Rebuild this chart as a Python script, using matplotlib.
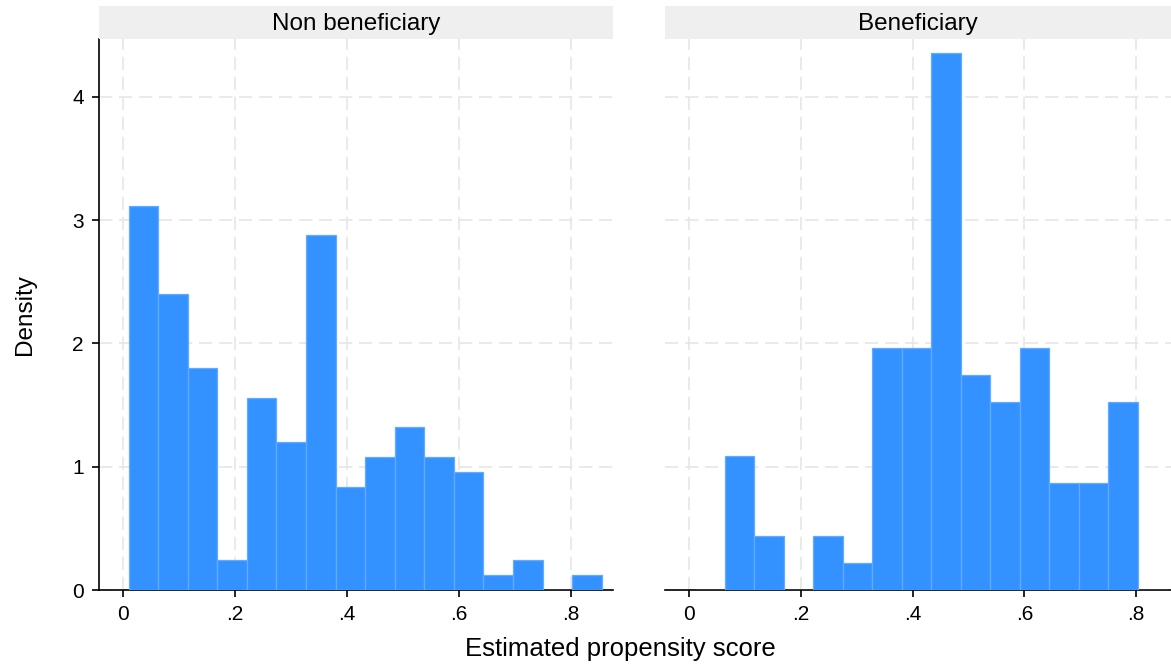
import numpy as np
import matplotlib
matplotlib.use("Agg")
import matplotlib.pyplot as plt

plt.rcParams['font.family'] = ['Liberation Sans', 'DejaVu Sans']

# histogram bins shared by both panels
bin_start = 0.0107
bin_width = 0.0528
n_bins = 16

# counts (density = count / (N * width))
non_benef_counts = [26, 20, 15, 2, 13, 10, 24, 7, 9, 11, 9, 8, 1, 2, 0, 1]
benef_counts = [0, 5, 2, 0, 2, 1, 9, 9, 20, 8, 7, 9, 4, 4, 7, 0]

panel_titles = ["Non beneficiary", "Beneficiary"]
x_ticks = [0, 0.2, 0.4, 0.6, 0.8]
x_ticklabels = ["0", ".2", ".4", ".6", ".8"]
y_ticks = [0, 1, 2, 3, 4]

W, H = 1171, 668
fig = plt.figure(figsize=(W / 100, H / 100), dpi=100)

bar_color = "#3392ff"
edge_color = "#63abff"
grid_color = "#e6e6e6"

# panel boxes in pixels: (left, right, xlim)
panels = [
    (99, 613, (-0.0420, 0.8757)),
    (665, 1171, (-0.0435, 0.8625)),
]
top_px, bottom_px = 39, 590
strip_top = 6

edges = bin_start + bin_width * np.arange(n_bins)

for i, (counts, title, (l, r, xlim)) in enumerate(zip([non_benef_counts, benef_counts], panel_titles, panels)):
    ax = fig.add_axes([l / W, 1 - bottom_px / H, (r - l) / W, (bottom_px - top_px) / H])
    counts = np.array(counts)
    dens = counts / (counts.sum() * bin_width)
    ax.bar(edges, dens, width=bin_width, align="edge", color=bar_color,
           edgecolor=edge_color, linewidth=0.9, zorder=3)
    ax.set_xlim(*xlim)
    ax.set_ylim(0, 4.47)
    ax.set_xticks(x_ticks)
    ax.set_xticklabels(x_ticklabels)
    ax.set_yticks(y_ticks)
    ax.grid(True, color=grid_color, linestyle=(0, (8, 4)), linewidth=1.2, zorder=0)
    for s in ["top", "right"]:
        ax.spines[s].set_visible(False)
    ax.spines["bottom"].set_linewidth(1.2)
    ax.spines["left"].set_linewidth(1.2)
    ax.tick_params(axis="x", length=5, width=1.2, labelsize=15, pad=6)
    ax.tick_params(axis="y", length=5, width=1.2, labelsize=15, pad=6)
    if i == 0:
        ax.set_ylabel("Density", fontsize=17.5, labelpad=26)
    else:
        ax.spines["left"].set_visible(False)
        ax.tick_params(axis="y", left=False, labelleft=False)

    # grey strip with panel title
    sax = fig.add_axes([l / W, 1 - top_px / H, (r - l) / W, (top_px - strip_top) / H])
    sax.set_facecolor("#efefef")
    sax.set_xticks([])
    sax.set_yticks([])
    for s in sax.spines.values():
        s.set_visible(False)
    sax.text(0.5, 0.45, title, ha="center", va="center", fontsize=17.5, transform=sax.transAxes)

fig.text(620 / W, 1 - 649 / H, "Estimated propensity score", ha="center", va="center", fontsize=18.5)

fig.savefig("out.png", dpi=100)
